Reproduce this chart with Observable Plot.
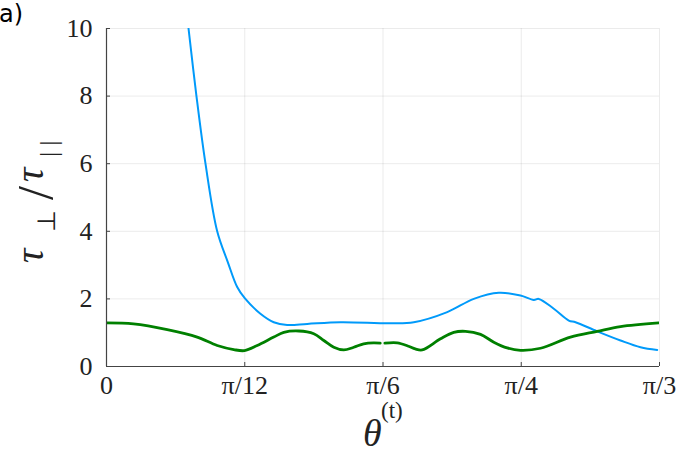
<!DOCTYPE html>
<html><head><meta charset="utf-8">
<script src="https://cdn.jsdelivr.net/npm/d3@7"></script>
<script src="https://cdn.jsdelivr.net/npm/@observablehq/plot@0.6"></script>
<style>body{margin:0;background:#fff;}</style>
</head><body><div id="chart"></div>
<script>
// x values in degrees (0..60 = 0..π/3)
const xTicks = [0, 15, 30, 45, 60];
const xTickLabels = ["0", "π/12", "π/6", "π/4", "π/3"];
const yTicks = [0, 2, 4, 6, 8, 10];
const yTickLabels = ["0", "2", "4", "6", "8", "10"];

const blueTheta = [8.90, 9.76, 10.74, 12.01, 13.16, 14.18, 15.0, 16.7, 18.15, 19.6, 21.78, 25.39, 30.81, 33.34, 36.97, 39.85, 42.56, 44.92, 46.36, 46.9, 48.53, 50.16, 50.89, 53.24, 55.77, 57.94, 59.75];
const blueRatio = [10.0, 8.0, 6.0, 4.0, 3.09, 2.35, 2.02, 1.56, 1.31, 1.23, 1.26, 1.31, 1.28, 1.31, 1.61, 2.0, 2.18, 2.10, 1.97, 2.0, 1.71, 1.36, 1.31, 1.04, 0.77, 0.57, 0.49];

const greenTheta = [0, 2.93, 6.59, 9.84, 12.01, 13.81, 14.97, 16.35, 18.15, 19.24, 20.86, 22.49, 23.58, 24.66, 25.75, 26.83, 27.9, 28.97, 29.7, 29.95, 30.2, 31.54, 32.77, 33.5, 34.25, 36.24, 37.68, 38.95, 40.58, 42.02, 43.47, 44.92, 47.09, 50.34, 53.24, 55.77, 59.92];
const greenRatio = [1.29, 1.26, 1.09, 0.87, 0.62, 0.50, 0.47, 0.62, 0.87, 1.01, 1.05, 0.97, 0.77, 0.57, 0.49, 0.57, 0.67, 0.70, 0.69, NaN, 0.69, 0.70, 0.60, 0.52, 0.49, 0.82, 1.01, 1.04, 0.95, 0.72, 0.55, 0.48, 0.54, 0.87, 1.04, 1.18, 1.29];

const blue = blueTheta.map((t, i) => ({t, r: blueRatio[i]}));
const green = greenTheta.map((t, i) => ({t, r: greenRatio[i]}));

const serif = "Liberation Serif";
const axisColor = "#444";

const plot = Plot.plot({
  width: 682, height: 454,
  marginLeft: 106, marginRight: 23, marginTop: 28, marginBottom: 88,
  style: {background: "#fff"},
  x: {domain: [0, 60], ticks: xTicks, label: null},
  y: {domain: [0, 10], ticks: yTicks, label: null},
  marks: [
    Plot.gridX(xTicks, {stroke: "#000", strokeOpacity: 0.08}),
    Plot.gridY(yTicks, {stroke: "#000", strokeOpacity: 0.08}),
    Plot.line(blue, {x: "t", y: "r", stroke: "#009AFA", strokeWidth: 2, curve: "catmull-rom", clip: true}),
    Plot.line(green, {x: "t", y: "r", stroke: "#008000", strokeWidth: 2.8, curve: "catmull-rom", clip: true}),
    Plot.ruleX([0], {stroke: axisColor, strokeWidth: 1.2}),
    Plot.ruleY([0], {stroke: axisColor, strokeWidth: 1.2}),
    Plot.axisY(yTicks, {tickSize: 4, dx: 4, fill: "none", stroke: axisColor}),
    Plot.axisX(xTicks, {tickSize: 4, dy: -4, fill: "none", stroke: axisColor}),
    Plot.text(yTicks, {y: d => d, text: (d, i) => yTickLabels[i], frameAnchor: "left", dx: -14,
      textAnchor: "end", fontSize: 26, fontFamily: serif, fill: "#222"}),
    Plot.text(xTicks, {x: d => d, text: (d, i) => xTickLabels[i], frameAnchor: "bottom", dy: 9,
      lineAnchor: "top", fontSize: 26, fontFamily: serif, fill: "#222"})
  ]
});

const svg = d3.select(plot);
// panel label
svg.append("text").attr("x", -1).attr("y", 22).attr("text-anchor", "start")
  .attr("font-family", "DejaVu Sans").attr("font-size", 24).attr("fill", "#000").text("a)");

// y label τ⊥ / τ||
const g = svg.append("g").attr("transform", "translate(43,263) rotate(-90)")
  .attr("font-family", serif).attr("fill", "#222").attr("text-anchor", "start");
g.append("text").attr("x", 0).attr("y", 0).attr("font-size", 40).attr("font-style", "italic").text("τ");
g.append("text").attr("x", 31).attr("y", 12).attr("font-size", 25).text("⊥");
g.append("text").attr("x", 63).attr("y", 9).attr("font-size", 50).text("/");
g.append("text").attr("x", 81).attr("y", 0).attr("font-size", 40).attr("font-style", "italic").text("τ");
g.append("text").attr("x", 106).attr("y", 14).attr("font-size", 26).attr("letter-spacing", 6).text("||");

// x label θ^(t)
const xl = svg.append("g").attr("font-family", serif).attr("fill", "#222").attr("text-anchor", "start");
xl.append("text").attr("x", 363).attr("y", 446).attr("font-size", 38).attr("font-style", "italic").text("θ");
xl.append("text").attr("x", 381).attr("y", 418).attr("font-size", 23).text("(t)");

document.getElementById("chart").appendChild(plot);
</script>
</body></html>
